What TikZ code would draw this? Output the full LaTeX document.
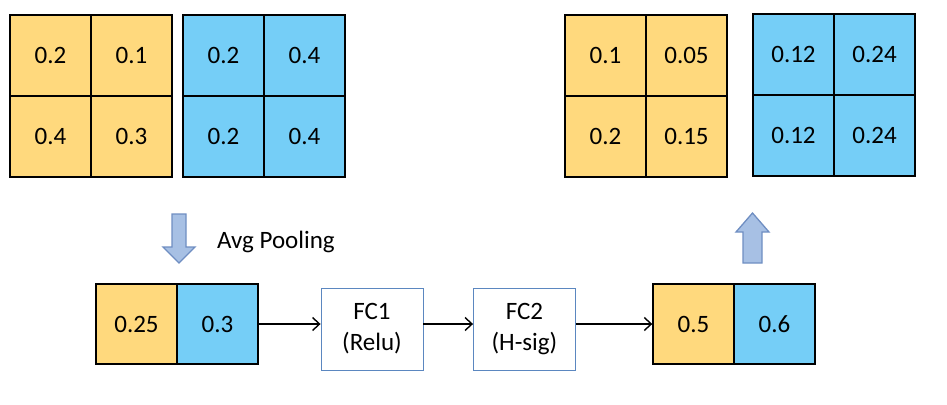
\documentclass[tikz,border=0pt]{standalone}
\usepackage{fontspec}
\setmainfont{Carlito}
\usetikzlibrary{arrows.meta}
\definecolor{cyel}{HTML}{FFD97D}
\definecolor{cblu}{HTML}{75CEF7}
\definecolor{arrfill}{HTML}{A7C0E4}
\definecolor{arredge}{HTML}{6F8EC2}
\definecolor{fcedge}{HTML}{5B87C0}
\tikzset{
  cell/.style={draw=black, line width=1.4pt, minimum width=81pt, minimum height=81pt, inner sep=0pt, font=\fontsize{25}{28}\selectfont},
  ycell/.style={cell, fill=cyel},
  bcell/.style={cell, fill=cblu},
  pcell/.style={cell, minimum height=80pt},
  fcbox/.style={draw=fcedge, line width=0.9pt, fill=white, minimum width=102pt, minimum height=82pt, inner sep=0pt, align=center, font=\fontsize{25}{31}\selectfont},
  conn/.style={draw=black, line width=1.4pt, -{Straight Barb[length=7pt,width=13pt,line width=1.4pt]}},
  blockarrow/.style={fill=arrfill, draw=arredge, line width=1.3pt, line join=miter}
}
\begin{document}
\begin{tikzpicture}[x=1pt,y=-1pt]
\useasboundingbox (0,0) rectangle (947,404);
% top-left yellow grid
\node[ycell] (ya) at (50.5,55.5) {0.2};
\node[ycell] (yb) at (131.5,55.5) {0.1};
\node[ycell] (yc) at (50.5,136.5) {0.4};
\node[ycell] (yd) at (131.5,136.5) {0.3};
% top-left blue grid
\node[bcell] (ba) at (223.5,55.5) {0.2};
\node[bcell] (bb) at (304.5,55.5) {0.4};
\node[bcell] (bc) at (223.5,136.5) {0.2};
\node[bcell] (bd) at (304.5,136.5) {0.4};
% top-right yellow grid
\node[ycell] (rya) at (605.5,55.5) {0.1};
\node[ycell] (ryb) at (686.5,55.5) {0.05};
\node[ycell] (ryc) at (605.5,136.5) {0.2};
\node[ycell] (ryd) at (686.5,136.5) {0.15};
% top-right blue grid
\node[bcell] (rba) at (793.5,54.5) {0.12};
\node[bcell] (rbb) at (874.5,54.5) {0.24};
\node[bcell] (rbc) at (793.5,135.5) {0.12};
\node[bcell] (rbd) at (874.5,135.5) {0.24};
% pooled pair
\node[ycell, pcell, fill=cyel] (pa) at (136.5,324) {0.25};
\node[bcell, pcell, fill=cblu] (pb) at (217.5,324) {0.3};
% FC boxes
\node[fcbox] (fc1) at (372,329) {FC1\\(Relu)};
\node[fcbox] (fc2) at (524.5,329) {FC2\\(H-sig)};
% output pair
\node[ycell, pcell, fill=cyel] (oa) at (693.5,324) {0.5};
\node[bcell, pcell, fill=cblu] (ob) at (774.5,324) {0.6};
% connectors
\draw[conn] (pb.east) -- (pb.east -| fc1.west);
\draw[conn] (fc1.east |- pb.east) -- (fc2.west |- pb.east);
\draw[conn] (fc2.east |- pb.east) -- (oa.west);
% block arrows
\draw[blockarrow] (172,214) -- (186,214) -- (186,247) -- (195,247) -- (179,263) -- (163,247) -- (172,247) -- cycle;
\node[anchor=west, inner sep=0pt, font=\fontsize{25}{28}\selectfont] (avg) at (217,242) {Avg Pooling};
\draw[blockarrow] (743,263) -- (762,263) -- (762,232) -- (769,232) -- (752.5,213) -- (736,232) -- (743,232) -- cycle;
\end{tikzpicture}
\end{document}
